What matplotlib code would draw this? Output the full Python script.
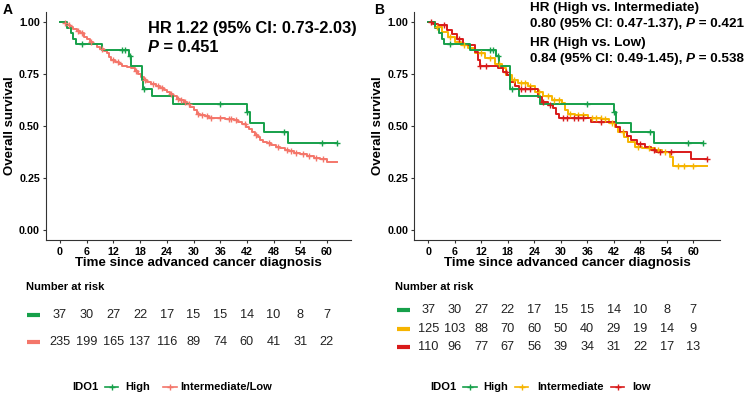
import numpy as np
import matplotlib
matplotlib.use("Agg")
import matplotlib.pyplot as plt
from matplotlib.lines import Line2D
from matplotlib import transforms

plt.rcParams["font.family"] = ["Liberation Sans", "DejaVu Sans"]

# ---- data (months, survival) ----
high_t = [0, 1.5, 2.5, 3.0, 3.6, 9.5, 15.4, 16.0, 18.4, 18.6, 20.6, 25.4, 42.0, 42.6, 45.8, 51.2]
high_s = [1.0, 0.973, 0.946, 0.919, 0.892, 0.865, 0.835, 0.79, 0.72, 0.68, 0.644, 0.606, 0.565, 0.515, 0.47, 0.42]
high_cens = [4.9, 13.9, 14.6, 15.8, 18.9, 36.0, 42.1, 50.3, 58.9, 62.3]
high_end = 62.3

lo_t = [0, 0.8, 1.5, 2.2, 3.0, 3.8, 4.5, 5.3, 6.0, 6.8, 7.5, 8.3, 9.0, 9.8, 10.5, 11.0,
        11.5, 12.3, 13.2, 14.0, 15.0, 16.0, 16.8, 17.5, 18.2, 18.8, 19.5, 20.5, 21.5,
        22.5, 23.3, 24.0, 24.8, 25.5, 26.3, 27.0, 27.8, 28.5, 29.3, 30.0, 30.8, 31.5,
        32.5, 33.5, 35.0, 37.0, 39.0, 40.0, 41.0, 41.8, 42.5, 43.2, 43.8, 44.4, 45.0,
        45.7, 46.5, 47.5, 48.5, 49.5, 50.5, 51.5, 52.5, 54.0, 55.5, 57.0, 58.5, 60.0]
lo_s = [1.0, 0.993, 0.985, 0.975, 0.965, 0.958, 0.945, 0.93, 0.917, 0.905, 0.893, 0.88,
        0.87, 0.86, 0.85, 0.83, 0.815, 0.81, 0.80, 0.79, 0.785, 0.777, 0.765, 0.75, 0.735,
        0.72, 0.71, 0.70, 0.69, 0.685, 0.675, 0.665, 0.652, 0.642, 0.632, 0.625, 0.615,
        0.605, 0.59, 0.575, 0.56, 0.553, 0.547, 0.54, 0.537, 0.533, 0.527, 0.52, 0.51,
        0.497, 0.485, 0.47, 0.458, 0.445, 0.435, 0.425, 0.418, 0.41, 0.40, 0.393, 0.385,
        0.38, 0.372, 0.365, 0.355, 0.345, 0.34, 0.328]
lo_cens = [1.2, 2.0, 4.0, 5.0, 7.0, 9.5, 12.0, 13.0, 17.0, 19.0, 21.0, 22.0, 23.0, 25.0,
           26.5, 27.2, 28.0, 29.0, 31.0, 32.0, 33.0, 34.0, 36.0, 38.0, 38.5, 39.5, 41.5,
           44.0, 47.0, 49.0, 51.0, 52.0, 53.0, 54.5, 56.0, 57.5, 59.0]
lo_end = 62.3

mid_t = [0, 1.5, 3.0, 4.5, 6.0, 7.5, 9.0, 10.6, 12.8, 15.1, 16.6, 17.7, 18.9, 20.4, 22.6,
         24.2, 26.0, 27.9, 30.2, 31.0, 31.7, 33.2, 36.2, 39.2, 40.8, 42.3, 43.0, 44.2,
         45.3, 46.8, 48.3, 51.3, 52.8, 54.7, 55.5]
mid_s = [1.0, 0.978, 0.953, 0.926, 0.905, 0.889, 0.873, 0.85, 0.825, 0.80, 0.777, 0.745,
         0.72, 0.705, 0.69, 0.665, 0.645, 0.625, 0.61, 0.577, 0.56, 0.553, 0.54, 0.532,
         0.516, 0.497, 0.473, 0.449, 0.425, 0.40, 0.393, 0.385, 0.377, 0.353, 0.308]
mid_cens = [2.0, 5.0, 8.0, 12.0, 14.0, 16.0, 19.5, 21.0, 22.0, 23.0, 25.0, 27.0, 28.5,
            29.5, 32.0, 34.0, 35.0, 37.0, 38.0, 39.0, 40.0, 41.5, 44.0, 47.5, 50.0, 52.0,
            53.5, 56.5, 58.0, 60.0]
mid_end = 63.0

low_t = [0, 1.0, 2.3, 4.2, 5.3, 6.4, 7.9, 10.6, 11.3, 11.7, 15.8, 17.0, 17.8, 18.5, 19.6,
         20.5, 24.9, 25.7, 27.2, 28.3, 29.0, 29.6, 36.8, 42.5, 43.5, 44.9, 46.0, 47.2,
         49.0, 50.5, 51.5, 59.5]
low_s = [1.0, 0.99, 0.985, 0.96, 0.94, 0.92, 0.89, 0.857, 0.817, 0.79, 0.777, 0.76, 0.745,
         0.713, 0.69, 0.676, 0.64, 0.617, 0.60, 0.585, 0.56, 0.537, 0.521, 0.497, 0.473,
         0.453, 0.433, 0.413, 0.40, 0.385, 0.377, 0.341]
low_cens = [0.5, 3.5, 7.0, 11.8, 13.0, 17.5, 21.0, 22.0, 23.0, 26.0, 27.5, 30.5, 31.5, 33.0,
            34.0, 35.0, 39.0, 48.0, 51.0, 52.5, 55.0, 63.0]
low_end = 63.0

risk_times = [0, 6, 12, 18, 24, 30, 36, 42, 48, 54, 60]
risk_high = [37, 30, 27, 22, 17, 15, 15, 14, 10, 8, 7]
risk_intlow = [235, 199, 165, 137, 116, 89, 74, 60, 41, 31, 22]
risk_mid = [125, 103, 88, 70, 60, 50, 40, 29, 19, 14, 9]
risk_low = [110, 96, 77, 67, 56, 39, 34, 31, 22, 17, 13]

GREEN = "#16A04A"
SALMON = "#F4766A"
YELLOW = "#F6B400"
RED = "#D91A1A"

W, H = 747, 394
fig = plt.figure(figsize=(W / 100, H / 100), dpi=100)


def fx(px):
    return px / W


def fy(py):
    return 1 - py / H


def km(ax, t, s, cens, end, color):
    tt = list(t) + [end]
    ss = list(s) + [s[-1]]
    ax.step(tt, ss, where="post", color=color, lw=1.4, zorder=3)
    idx = np.searchsorted(t, cens, side="right") - 1
    cy = np.array(s)[idx]
    ax.plot(cens, cy, ls="none", marker="+", ms=4.5, mew=1.0, color=color, zorder=4)


def setup(ax):
    ax.set_ylim(-0.05, 1.05)
    ax.set_xticks(risk_times)
    ax.set_yticks([0, 0.25, 0.5, 0.75, 1.0])
    ax.set_yticklabels(["0.00", "0.25", "0.50", "0.75", "1.00"])
    for sp in ["top", "right"]:
        ax.spines[sp].set_visible(False)
    for sp in ["left", "bottom"]:
        ax.spines[sp].set_color("#333333")
        ax.spines[sp].set_linewidth(0.8)
    ax.tick_params(length=2.5, width=0.8, color="#333333", labelsize=7.7, pad=2)
    for lab in ax.get_xticklabels() + ax.get_yticklabels():
        lab.set_fontweight("bold")
    ax.set_xlabel("Time since advanced cancer diagnosis", fontsize=9.6,
                  fontweight="bold", labelpad=0)
    ax.set_ylabel("Overall survival", fontsize=9.5, fontweight="bold", labelpad=2)


def rich(x, y, parts, size):
    r = fig.canvas.get_renderer()
    for s, style in parts:
        t = fig.text(x, y, s, fontsize=size, fontweight="bold", fontstyle=style,
                     va="center", ha="left")
        bb = t.get_window_extent(r)
        x += bb.width / fig.bbox.width


# ---- panel A ----
scaleA = (327 - 60) / 60.0
xlA = (-3.115, 65.4)
axA = fig.add_axes([fx(60 + xlA[0] * scaleA), fy(240.4),
                    (xlA[1] - xlA[0]) * scaleA / W, (240.4 - 11.6) / H])
axA.set_xlim(*xlA)
km(axA, lo_t, lo_s, lo_cens, lo_end, SALMON)
km(axA, high_t, high_s, high_cens, high_end, GREEN)
setup(axA)

# ---- panel B ----
scaleB = (693.3 - 428.3) / 60.0
xlB = (-3.15, 66.15)
axB = fig.add_axes([fx(428.3 + xlB[0] * scaleB), fy(240.4),
                    (xlB[1] - xlB[0]) * scaleB / W, (240.4 - 11.6) / H])
axB.set_xlim(*xlB)
km(axB, mid_t, mid_s, mid_cens, mid_end, YELLOW)
km(axB, low_t, low_s, low_cens, low_end, RED)
km(axB, high_t, high_s, high_cens, high_end, GREEN)
setup(axB)

fig.text(fx(3), fy(10), "A", fontsize=10, fontweight="bold", va="center")
fig.text(fx(374), fy(10), "B", fontsize=10, fontweight="bold", va="center")

# HR annotations
rich(fx(148), fy(28), [("HR 1.22 (95% CI: 0.73-2.03)", "normal")], 11.8)
rich(fx(148), fy(47), [("P", "italic"), (" = 0.451", "normal")], 11.8)
rich(fx(530), fy(8), [("HR (High vs. Intermediate)", "normal")], 9.7)
rich(fx(530), fy(24), [("0.80 (95% CI: 0.47-1.37), ", "normal"), ("P", "italic"),
                       (" = 0.421", "normal")], 9.7)
rich(fx(530), fy(43), [("HR (High vs. Low)", "normal")], 9.7)
rich(fx(530), fy(59), [("0.84 (95% CI: 0.49-1.45), ", "normal"), ("P", "italic"),
                       (" = 0.538", "normal")], 9.7)


# ---- risk tables ----
def risk_table(ax, title_px, rows, bar_px):
    fig.text(fx(title_px), fy(287), "Number at risk", fontsize=8, fontweight="bold",
             va="center", ha="left")
    tr = transforms.blended_transform_factory(ax.transData, fig.transFigure)
    for vals, color, ypx in rows:
        fig.add_artist(Line2D([fx(bar_px[0]), fx(bar_px[1])], [fy(ypx), fy(ypx)],
                              color=color, lw=3, solid_capstyle="butt",
                              transform=fig.transFigure))
        for t, v in zip(risk_times, vals):
            fig.text(t, fy(ypx), str(v), transform=tr, ha="center", va="center",
                     fontsize=9.2, color="#222222")


risk_table(axA, 26, [(risk_high, GREEN, 315), (risk_intlow, SALMON, 342)], (27, 40))
risk_table(axB, 395, [(risk_high, GREEN, 310), (risk_mid, YELLOW, 329),
                      (risk_low, RED, 347)], (397, 410))


# ---- legends ----
def legend(items, ypx, title_px):
    fig.text(fx(title_px), fy(ypx), "IDO1", fontsize=8, fontweight="bold",
             va="center", ha="left")
    for x0, x1, color, label, lx in items:
        fig.add_artist(Line2D([fx(x0), fx(x1)], [fy(ypx), fy(ypx)], color=color,
                              lw=1.2, transform=fig.transFigure))
        fig.add_artist(Line2D([fx((x0 + x1) / 2)], [fy(ypx)], color=color, marker="+",
                              ms=5, mew=1.0, ls="none", transform=fig.transFigure))
        fig.text(fx(lx), fy(ypx), label, fontsize=8, fontweight="bold",
                 va="center", ha="left")


legend([(105, 118, GREEN, "High", 125), (163, 177, SALMON, "Intermediate/Low", 180)],
       387, 72)
legend([(463, 477, GREEN, "High", 483), (515, 528, YELLOW, "Intermediate", 537),
        (611, 624, RED, "low", 632)], 387, 430)

fig.savefig("out.png", dpi=100)
